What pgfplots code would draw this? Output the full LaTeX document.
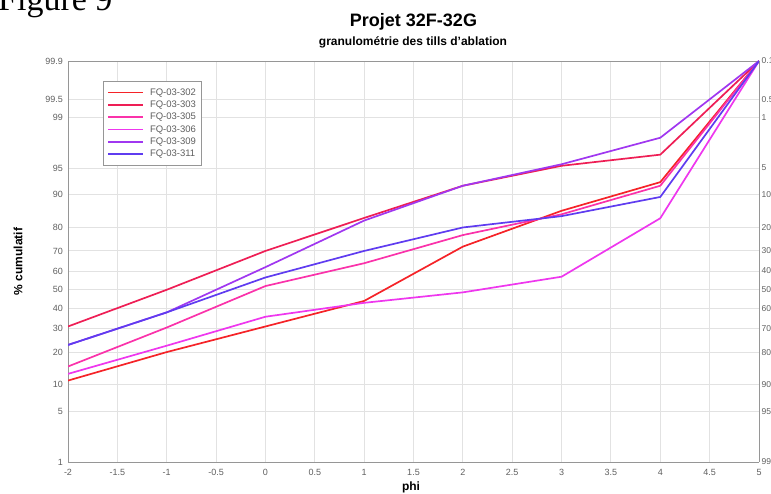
\documentclass[border=0pt]{standalone}
\usepackage{fontspec}
\setmainfont{Liberation Sans}
\newfontfamily\seriffont{Liberation Serif}
\usepackage{pgfplots}
\pgfplotsset{compat=1.18}

\definecolor{c302}{RGB}{245,35,40}
\definecolor{c303}{RGB}{238,30,85}
\definecolor{c305}{RGB}{250,50,170}
\definecolor{c306}{RGB}{238,55,238}
\definecolor{c309}{RGB}{160,55,240}
\definecolor{c311}{RGB}{95,60,240}
\definecolor{gridgray}{RGB}{226,226,226}
\definecolor{framegray}{RGB}{150,150,150}
\definecolor{labelgray}{RGB}{95,95,95}

% y values are on the probability (normal quantile) scale:
% z of the cumulative percentage, e.g. 50% -> 0, 90% -> 1.2816
\pgfplotsset{
  probaxis/.style={
    at={(68pt,32pt)}, anchor=south west,
    scale only axis, width=691pt, height=401pt,
    xmin=-2, xmax=5, ymin=-2.3263, ymax=3.0902,
    ytick={-2.3263,-1.6449,-1.2816,-0.8416,-0.5244,-0.2533,0,0.2533,0.5244,0.8416,1.2816,1.6449,2.3263,2.5758,3.0902},
    major tick length=0pt,
    axis line style={framegray, line width=0.8pt},
    tick label style={font=\fontsize{9}{10}\selectfont, text=labelgray},
  }
}

\begin{document}
\begin{tikzpicture}
\begin{axis}[
  probaxis,
  xtick={-2,-1.5,-1,-0.5,0,0.5,1,1.5,2,2.5,3,3.5,4,4.5,5},
  xticklabels={-2,-1.5,-1,-0.5,0,0.5,1,1.5,2,2.5,3,3.5,4,4.5,5},
  yticklabels={1,5,10,20,30,40,50,60,70,80,90,95,99,99.5,99.9},
  xticklabel style={inner sep=0pt, anchor=north, yshift=-7pt},
  yticklabel style={inner sep=0pt, anchor=east, xshift=-5pt},
  grid=major,
  grid style={gridgray, line width=0.9pt},
  axis y line*=left,
  legend cell align={left},
  legend image code/.code={\draw[#1, line width=1.7pt] (0pt,0pt) -- (35pt,0pt);},
  legend style={
    at={(0.0507,0.95)}, anchor=north west,
    draw=framegray, line width=0.6pt,
    font=\fontsize{9.5}{10}\selectfont, text=labelgray,
    inner xsep=4pt, inner ysep=5pt, row sep=0pt,
    nodes={inner sep=1pt, text height=8pt, text depth=2.3pt},
    /tikz/every odd column/.append style={column sep=5pt},
  },
  every axis plot/.append style={line width=1.7pt, line join=round},
]
% FQ-03-302: 11 20 31 44 72 85.7 92.7 99.9 %
\addplot[c302] coordinates {(-2,-1.2265) (-1,-0.8416) (0,-0.4959) (1,-0.1510) (2,0.5828) (3,1.0669) (4,1.4538) (5,3.0902)};
\addlegendentry{FQ-03-302}
% FQ-03-303: 31 50 70 83.4 92 95.3 96.6 99.9 %
\addplot[c303] coordinates {(-2,-0.4959) (-1,0) (0,0.5244) (1,0.9700) (2,1.4051) (3,1.6747) (4,1.8250) (5,3.0902)};
\addlegendentry{FQ-03-303}
% FQ-03-305: 15 30.5 52 64 77 84.6 92 99.9 %
\addplot[c305] coordinates {(-2,-1.0364) (-1,-0.5101) (0,0.0502) (1,0.3585) (2,0.7388) (3,1.0194) (4,1.4051) (5,3.0902)};
\addlegendentry{FQ-03-305}
% FQ-03-306: 12.8 22.5 35.8 43 48.6 57 83.3 99.9 %
\addplot[c306] coordinates {(-2,-1.1359) (-1,-0.7554) (0,-0.3643) (1,-0.1764) (2,-0.0351) (3,0.1764) (4,0.9661) (5,3.0902)};
\addlegendentry{FQ-03-306}
% FQ-03-309: 22.8 38 62 82.5 92 95.5 98 99.9 %
\addplot[c309] coordinates {(-2,-0.7454) (-1,-0.3055) (0,0.3055) (1,0.9346) (2,1.4051) (3,1.6954) (4,2.0537) (5,3.0902)};
\addlegendentry{FQ-03-309}
% FQ-03-311: 22.8 38 56.6 70 80 84 89.5 99.9 %
\addplot[c311] coordinates {(-2,-0.7454) (-1,-0.3055) (0,0.1662) (1,0.5244) (2,0.8416) (3,0.9945) (4,1.2536) (5,3.0902)};
\addlegendentry{FQ-03-311}
\end{axis}
\begin{axis}[
  probaxis,
  axis x line=none,
  axis y line*=right,
  yticklabels={99,95,90,80,70,60,50,40,30,20,10,5,1,0.5,0.1},
  yticklabel style={inner sep=0pt, anchor=west, xshift=2.5pt, font=\fontsize{8.5}{10}\selectfont},
]
\addplot[draw=none] coordinates {(-2,0) (5,0)};
\end{axis}
% titles and labels
\node[font=\bfseries\fontsize{18}{20}\selectfont, anchor=base] at (413.5pt,467pt) {Projet 32F-32G};
\node[font=\bfseries\fontsize{12}{13}\selectfont, anchor=base] at (413pt,448.5pt) {granulométrie des tills d'ablation};
\node[font=\bfseries\fontsize{12}{13}\selectfont, rotate=90] at (18pt,232.5pt) {\% cumulatif};
\node[font=\bfseries\fontsize{12}{13}\selectfont] at (411pt,7pt) {phi};
\node[font=\seriffont\fontsize{34}{36}\selectfont, anchor=base west, inner sep=0pt] at (-2pt,483pt) {Figure 9};
\pgfresetboundingbox
\useasboundingbox (0pt,0pt) rectangle (771pt,494pt);
\end{tikzpicture}
\end{document}
